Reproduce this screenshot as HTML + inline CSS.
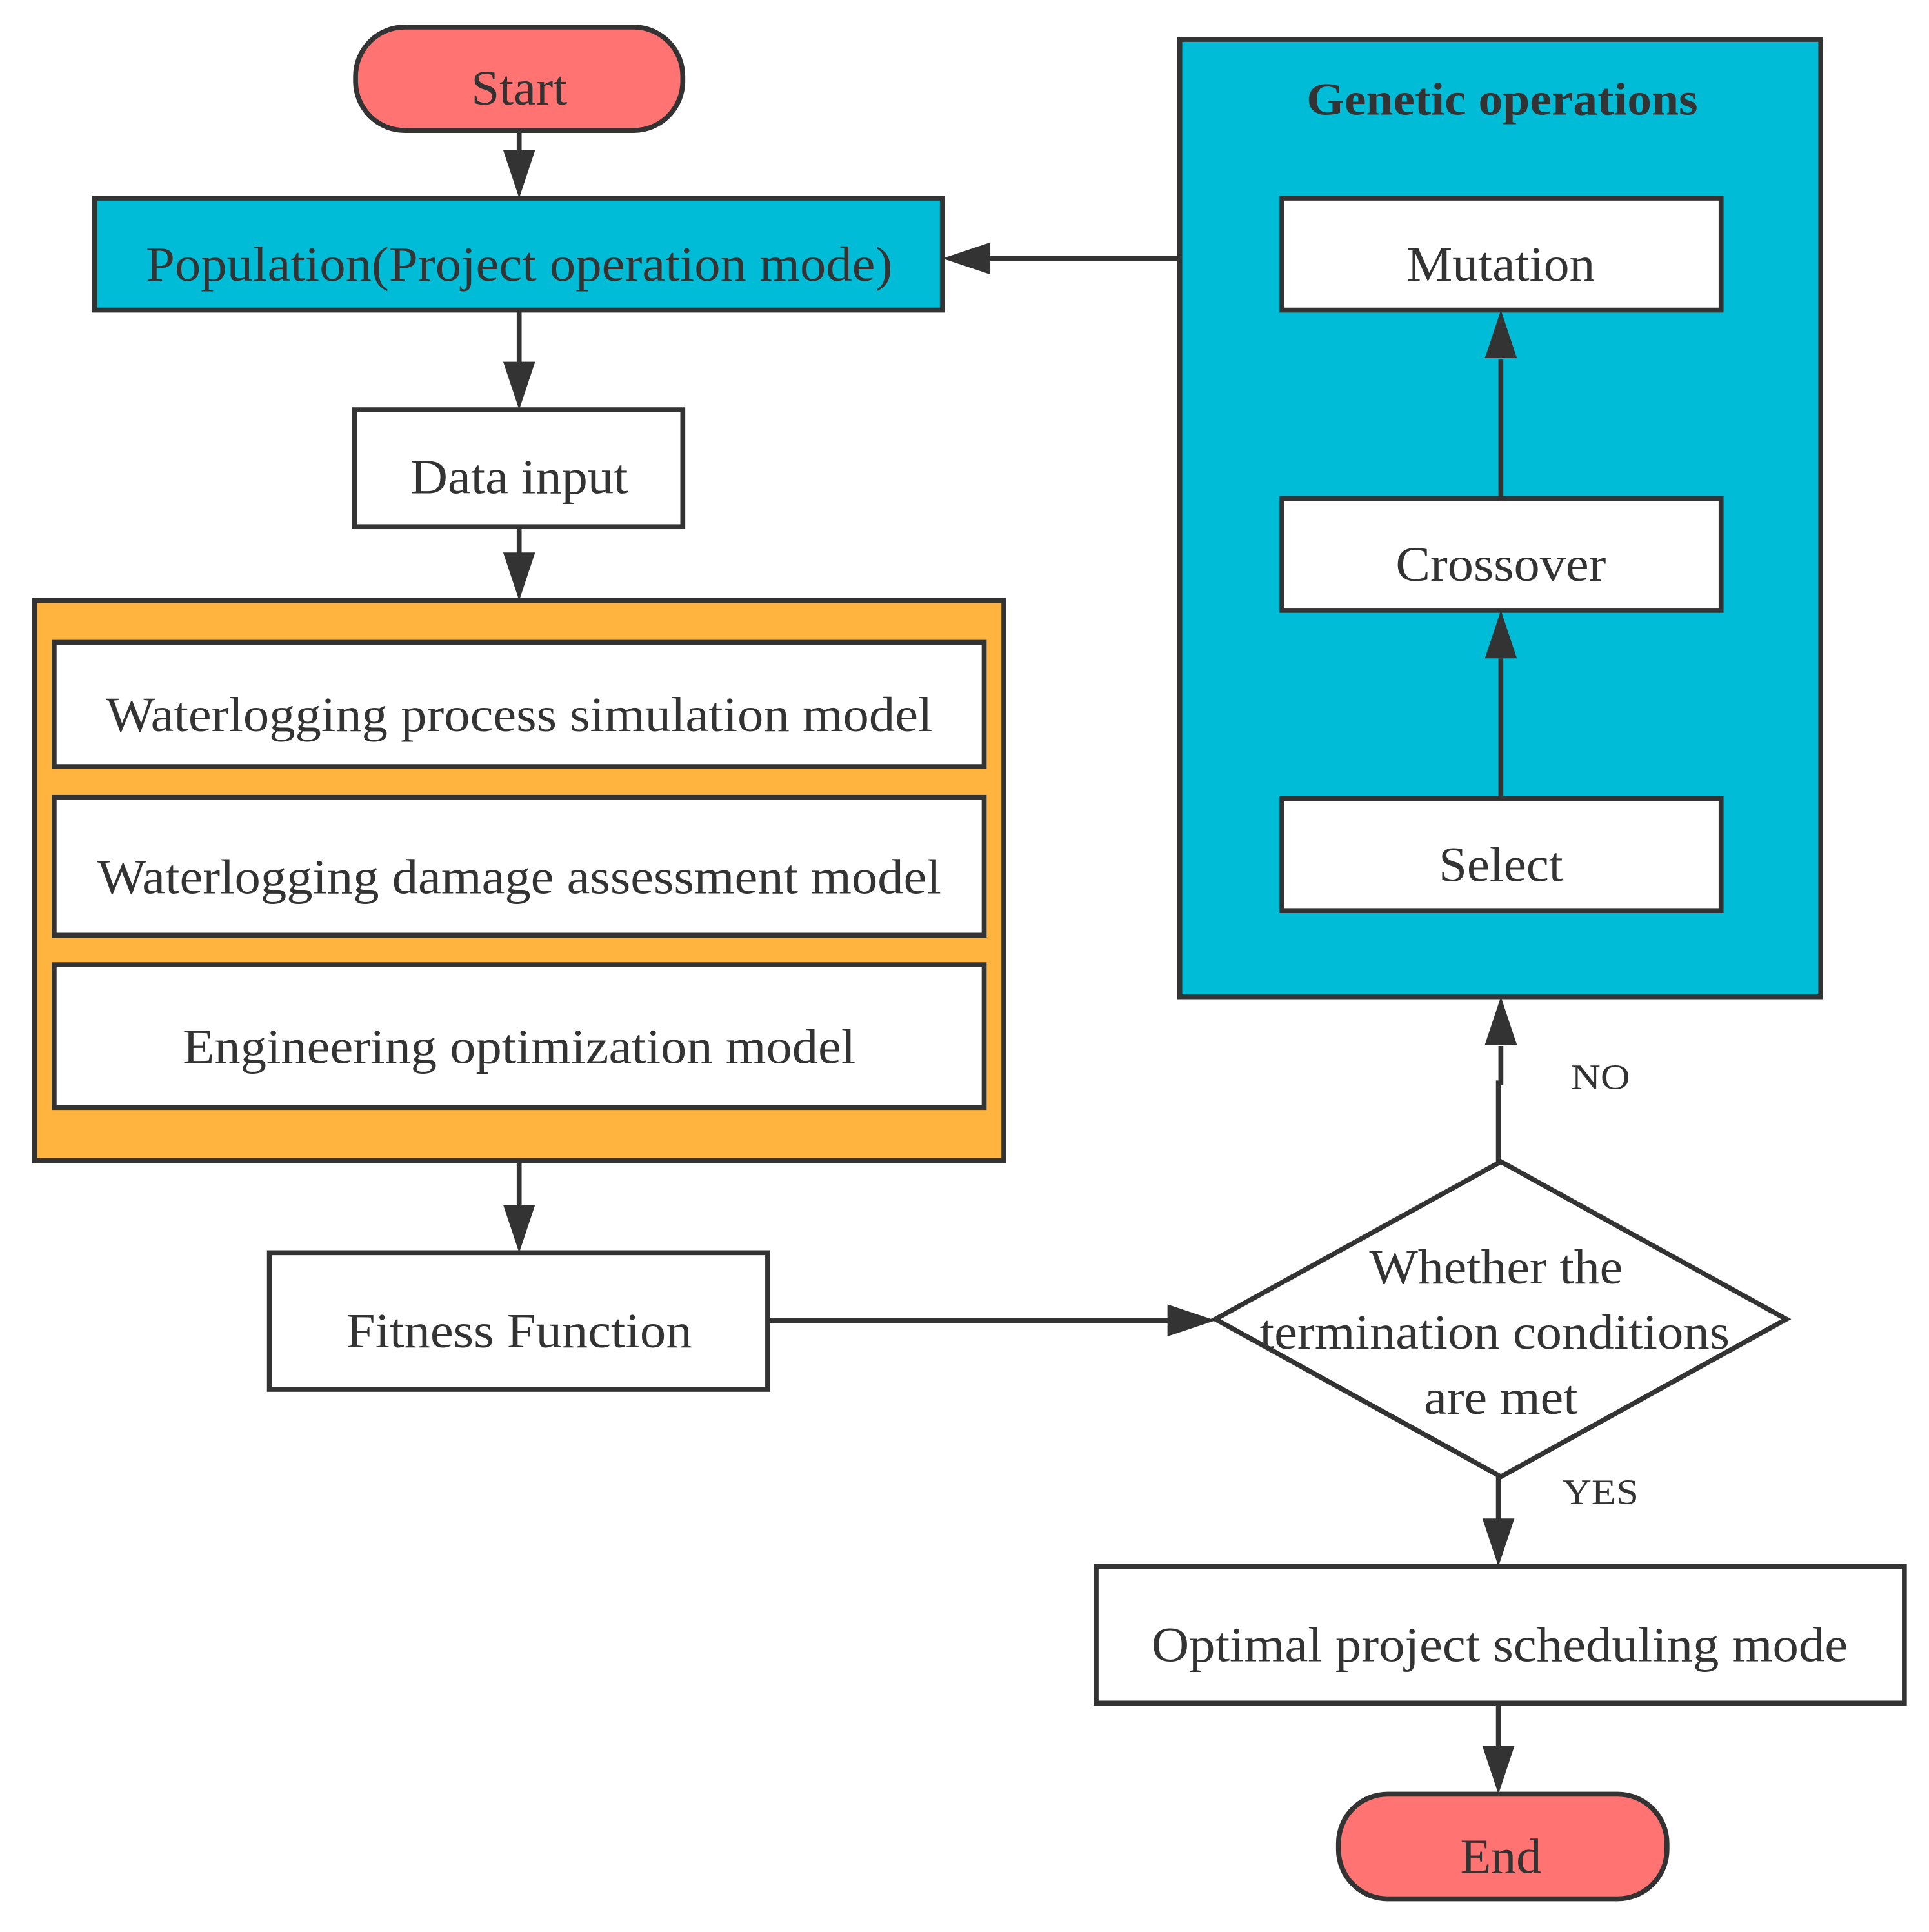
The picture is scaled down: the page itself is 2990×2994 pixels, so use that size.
<!DOCTYPE html>
<html><head><style>
html,body{margin:0;padding:0;background:#fff;}
svg{display:block;}
text{font-family:"Liberation Serif",serif;fill:#333;text-anchor:middle;}
</style></head><body>
<svg width="2990" height="2994" viewBox="0 0 1568 1570" preserveAspectRatio="none" xmlns="http://www.w3.org/2000/svg">
<g stroke="#333" stroke-width="4">
<rect x="959" y="32" width="521" height="778" fill="#01BCD6"/>
<rect x="28" y="488" width="788" height="455" fill="#FFB43F"/>
<rect x="289" y="22" width="266" height="84" rx="40" fill="#FF7473"/>
<rect x="77" y="161" width="689" height="91" fill="#01BCD6"/>
<rect x="288" y="333" width="267" height="95" fill="#fff"/>
<rect x="44" y="522" width="756" height="101" fill="#fff"/>
<rect x="44" y="648" width="756" height="112" fill="#fff"/>
<rect x="44" y="784" width="756" height="116" fill="#fff"/>
<rect x="219" y="1018" width="405" height="111" fill="#fff"/>
<rect x="1042" y="161" width="357" height="91" fill="#fff"/>
<rect x="1042" y="405" width="357" height="91" fill="#fff"/>
<rect x="1042" y="649" width="357" height="91" fill="#fff"/>
<polygon points="1220,944 1452,1072 1220,1200 988,1072" fill="#fff"/>
<rect x="891" y="1273" width="657" height="111" fill="#fff"/>
<rect x="1088" y="1458" width="267" height="85" rx="40" fill="#FF7473"/>
<g fill="none">
<line x1="422" y1="106" x2="422" y2="130"/>
<line x1="422" y1="252" x2="422" y2="300"/>
<line x1="422" y1="428" x2="422" y2="452"/>
<line x1="422" y1="943" x2="422" y2="982"/>
<line x1="624" y1="1073" x2="952" y2="1073"/>
<polyline points="1218,944 1218,880 1220,880 1220,850"/>
<line x1="959" y1="210" x2="805" y2="210"/>
<line x1="1220" y1="649" x2="1220" y2="535"/>
<line x1="1220" y1="405" x2="1220" y2="292"/>
<line x1="1218" y1="1200" x2="1218" y2="1238"/>
<line x1="1218" y1="1384" x2="1218" y2="1422"/>
</g>
</g>
<g fill="#333">
<polygon points="409,122 435,122 422,161"/>
<polygon points="409,294 435,294 422,333"/>
<polygon points="409,449 435,449 422,488"/>
<polygon points="409,979 435,979 422,1018"/>
<polygon points="949,1060 949,1086 988,1073"/>
<polygon points="1207,849 1233,849 1220,810"/>
<polygon points="805,197 805,223 766,210"/>
<polygon points="1207,535 1233,535 1220,496"/>
<polygon points="1207,291 1233,291 1220,252"/>
<polygon points="1205,1234 1231,1234 1218,1273"/>
<polygon points="1205,1419 1231,1419 1218,1458"/>
</g>
<g font-size="40" lengthAdjust="spacingAndGlyphs">
<text x="422" y="85" textLength="78" lengthAdjust="spacingAndGlyphs">Start</text>
<text x="422" y="228" textLength="607" lengthAdjust="spacingAndGlyphs">Population(Project operation mode)</text>
<text x="422" y="401" textLength="177" lengthAdjust="spacingAndGlyphs">Data input</text>
<text x="422" y="594" textLength="672" lengthAdjust="spacingAndGlyphs">Waterlogging process simulation model</text>
<text x="422" y="726" textLength="686" lengthAdjust="spacingAndGlyphs">Waterlogging damage assessment model</text>
<text x="422" y="864" textLength="547" lengthAdjust="spacingAndGlyphs">Engineering optimization model</text>
<text x="422" y="1095" textLength="281" lengthAdjust="spacingAndGlyphs">Fitness Function</text>
<text x="1220" y="228" textLength="153" lengthAdjust="spacingAndGlyphs">Mutation</text>
<text x="1220" y="472" textLength="171" lengthAdjust="spacingAndGlyphs">Crossover</text>
<text x="1220" y="716" textLength="101" lengthAdjust="spacingAndGlyphs">Select</text>
<text x="1216" y="1043" textLength="206" lengthAdjust="spacingAndGlyphs">Whether the</text>
<text x="1215" y="1096" textLength="382" lengthAdjust="spacingAndGlyphs">termination conditions</text>
<text x="1220" y="1149" textLength="125" lengthAdjust="spacingAndGlyphs">are met</text>
<text x="1219" y="1350" textLength="566" lengthAdjust="spacingAndGlyphs">Optimal project scheduling mode</text>
<text x="1220" y="1522" textLength="66" lengthAdjust="spacingAndGlyphs">End</text>
<text x="1221" y="93" font-weight="bold" font-size="37" textLength="318" lengthAdjust="spacingAndGlyphs">Genetic operations</text>
</g>
<text x="1301" y="885" font-size="29" textLength="48" lengthAdjust="spacingAndGlyphs">NO</text>
<text x="1301" y="1222" font-size="29" textLength="62" lengthAdjust="spacingAndGlyphs">YES</text>
</svg>
</body></html>
